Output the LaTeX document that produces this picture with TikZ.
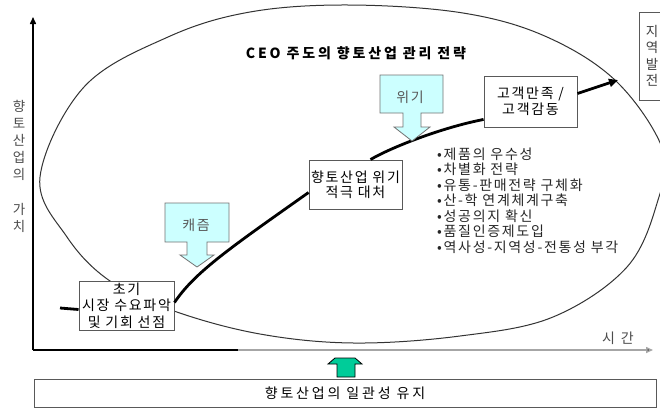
\documentclass[tikz,border=0pt]{standalone}
\usepackage{fontspec}
\setmainfont{Noto Sans CJK KR}[LetterSpace=12]
\newfontfamily\krwide{Noto Sans CJK KR}[LetterSpace=20]
\usetikzlibrary{arrows.meta,calc}
\definecolor{callfill}{RGB}{204,255,255}
\definecolor{greenarrow}{RGB}{0,204,153}
\tikzset{
  box/.style={draw=black!65, fill=white, line width=0.9pt, align=center, inner sep=1pt},
  txt/.style={font=\fontsize{14}{16}\selectfont, inner sep=0pt, text=black!85},
  curve/.style={line width=2.8pt, black},
  callout/.style={draw=black!55, fill=callfill, line width=0.8pt},
  axis/.style={line width=1.5pt},
}
\begin{document}
\begin{tikzpicture}[x=1pt,y=-1pt]
\useasboundingbox (0,0) rectangle (660,408);
\fill[white] (0,0) rectangle (660,408);

% axes
\coordinate (O) at (33,350);
\coordinate (ytop) at (33,17);
\coordinate (xmid) at (238,350);
\coordinate (xend) at (653,350);
\draw[axis,-{Triangle[length=7pt,width=6pt]}] (O) -- (ytop);
\draw[axis] (O) -- (xmid);
\draw[axis,black!35,-{Triangle[length=7pt,width=6pt,fill=black]}] (xmid) -- (xend);

% ellipse (strategy area)
\draw[line width=1pt, black!80] plot[smooth cycle, tension=0.6] coordinates {
  (40,177) (67,237) (110,281) (174,311) (260,334) (354,343) (460,336)
  (553,317) (627,267) (658,200) (663,150) (617,82) (547,37) (463,13)
  (349,5) (250,12) (168,37) (84,87)};

% axis labels
\node[txt, font=\fontsize{13.5}{17}\selectfont, align=center, text=black!70] (ylab) at (19,140)
  {향\\토\\산\\업\\의};
\node[txt, font=\fontsize{13.5}{17}\selectfont, align=center, text=black!70] (ylab2) at (19,218)
  {가\\치};
\node[txt, font=\fontsize{14}{16}\krwide, text=black!70] (xlab) at (618,338) {시 간};

% title
\node[txt, font=\fontsize{14}{16}\krwide\bfseries, text=black] (title) at (356,53) {CEO 주도의 향토산업 관리 전략};

% main curve
\node[box, minimum width=95pt, minimum height=49pt, font=\fontsize{14}{16.5}\selectfont] (init) at (126.5,305.5)
  {초기\\시장 수요파악\\및 기회 선점};
\node[box, minimum width=93pt, minimum height=49pt, font=\fontsize{14}{15}\selectfont] (crisis) at (355.5,184.5)
  {향토산업 위기\\적극 대처};
\node[box, minimum width=93pt, minimum height=51pt, font=\fontsize{14}{15.5}\selectfont] (cust) at (530.5,101.5)
  {고객만족 /\\고객감동};

\coordinate (c0) at (60,308);
\coordinate (tip) at (618,80);
\draw[curve] (c0) -- ($(init.west)+(0,4)$);
\draw[curve] ($(init.east)+(0,-3)$) .. controls (195,272) and (230,248) .. ($(crisis.west)+(0,8)$);
\draw[curve] ($(crisis.north)+(15,0)$) .. controls (390,148) and (440,128) .. ($(cust.south west)+(0,-8)$);
\draw[curve,-{Triangle[length=9pt,width=8pt]}] ($(cust.east)+(0,-8)$) -- (tip);

% callouts
\draw[callout] (165,203) -- (229,203) -- (229,242) -- (207,242) -- (207,255) -- (214,255)
  -- (197,267) -- (180,255) -- (187,255) -- (187,242) -- (165,242) -- cycle;
\node[txt, text=black!65] (chasm) at (196,225) {캐즘};
\draw[callout] (380,75) -- (443,75) -- (443,113) -- (421,113) -- (421,127) -- (430,127)
  -- (412,141) -- (394,127) -- (403,127) -- (403,113) -- (380,113) -- cycle;
\node[txt, text=black!65] (crisiscall) at (410,97) {위기};

% bullet list
\node[txt, anchor=west, align=left, font=\fontsize{14}{15.5}\selectfont] (list) at (437,200.5)
  {•제품의 우수성\\•차별화 전략\\•유통-판매전략 구체화\\•산-학 연계체계구축\\•성공의지 확신\\•품질인증제도입\\•역사성-지역성-전통성 부각};

% regional development box
\node[box, minimum width=26pt, minimum height=88pt, font=\fontsize{13.5}{16.5}\selectfont, text=black!75] (region) at (652,56)
  {지\\역\\발\\전};

% bottom box and green arrow
\node[box, minimum width=622pt, minimum height=28pt, font=\fontsize{14}{16}\krwide] (base) at (345,393)
  {향토산업의 일관성 유지};
\draw[fill=greenarrow, draw=black, line width=0.8pt]
  (337,377) -- (337,364) -- (328,364) -- (335,358) -- (355,358) -- (362,364) -- (355,364) -- (355,377) -- cycle;
\end{tikzpicture}
\end{document}
